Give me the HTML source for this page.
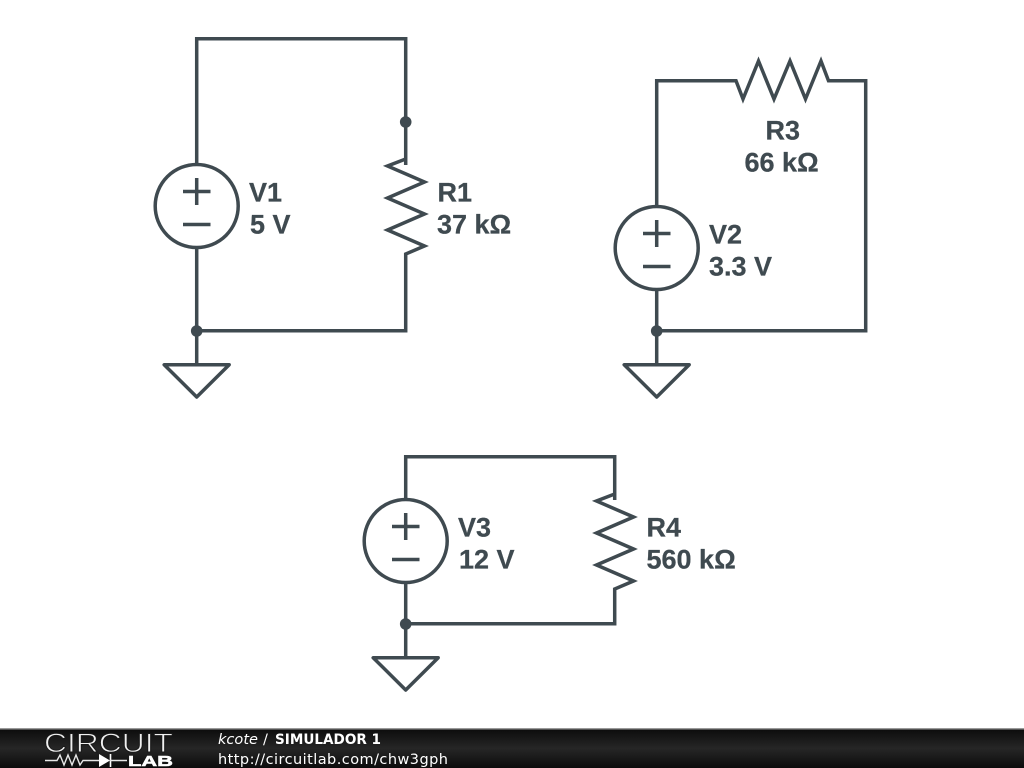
<!DOCTYPE html>
<html>
<head>
<meta charset="utf-8">
<style>
html,body{margin:0;padding:0;background:#fff}
svg{display:block}
.w{fill:none;stroke:#3f4a50;stroke-width:3.5;stroke-linejoin:miter;stroke-linecap:butt}
.t{fill:none;stroke:#3f4a50;stroke-width:3.5;stroke-linejoin:round}
.l{font-family:"Liberation Sans",sans-serif;font-weight:bold;font-size:27px;fill:#3f4a50;stroke:#3f4a50;stroke-width:0.25}
.d{fill:#3f4a50}
.f{font-family:"DejaVu Sans",sans-serif;font-size:14.5px;fill:#fff}
</style>
</head>
<body>
<svg width="1024" height="768" viewBox="0 0 1024 768" xmlns="http://www.w3.org/2000/svg">
<defs>
<linearGradient id="g" x1="0" y1="0" x2="0" y2="1">
<stop offset="0" stop-color="#0c0c0c"/>
<stop offset="0.5" stop-color="#262626"/>
<stop offset="1" stop-color="#0c0c0c"/>
</linearGradient>
</defs>
<rect width="1024" height="768" fill="#fff"/>

<!-- V1 / R1 -->
<path class="w" d="M196.700 164V38.700H405.700V165"/>
<path class="w" d="M405.700 159L387.500 166L424.500 182L387.500 198L424.500 214L387.500 230L424.500 246L405.700 254V330.700H196.700V248"/>
<circle class="w" cx="196.700" cy="206" r="41.500"/>
<path class="w" d="M196.700 178V205M183 191.500H210.500M183 224.500H210.500"/>
<circle class="d" cx="405.700" cy="122" r="5.800"/>
<circle class="d" cx="196.700" cy="331" r="5.800"/>
<path class="w" d="M196.700 331V364"/>
<path class="t" d="M164.200 364.700H229.200L196.700 397Z"/>
<text class="l" x="249" y="201.500">V1</text>
<text class="l" x="250" y="233.500">5 V</text>
<text class="l" x="437.500" y="201.500">R1</text>
<text class="l" x="437" y="233.500">37 kΩ</text>

<!-- V2 / R3 -->
<path class="w" d="M656.700 206V80.700H736L743 99L758.500 61L774 99L790 61L805.500 99L821 61L828.500 80.700H865.700V330.700H656.700V290"/>
<circle class="w" cx="656.700" cy="248" r="41.500"/>
<path class="w" d="M656.700 220V247M643 233.500H670.500M643 266.500H670.500"/>
<circle class="d" cx="656.700" cy="331" r="5.800"/>
<path class="w" d="M656.700 331V364"/>
<path class="t" d="M624.200 364.700H689.200L656.700 397Z"/>
<text class="l" x="765.500" y="139.500">R3</text>
<text class="l" x="744.500" y="171.500">66 kΩ</text>
<text class="l" x="709" y="243.500">V2</text>
<text class="l" x="709" y="275.500">3.3 V</text>

<!-- V3 / R4 -->
<path class="w" d="M405.700 499V456.700H614.700V500"/>
<path class="w" d="M614.700 494L596.500 501L633.500 517L596.500 533L633.500 549L596.500 565L633.500 581L614.700 589V623.700H405.700V583"/>
<circle class="w" cx="405.700" cy="541" r="41.500"/>
<path class="w" d="M405.700 513V540M392 526.500H419.500M392 559.500H419.500"/>
<circle class="d" cx="405.700" cy="624" r="5.800"/>
<path class="w" d="M405.700 624V657"/>
<path class="t" d="M373.200 657.700H438.200L405.700 690Z"/>
<text class="l" x="458" y="536.500">V3</text>
<text class="l" x="459" y="568.500">12 V</text>
<text class="l" x="646.500" y="536.500">R4</text>
<text class="l" x="646.500" y="568.500">560 kΩ</text>

<!-- Footer -->
<rect x="0" y="729" width="1024" height="39" fill="url(#g)"/>
<rect x="0" y="728" width="1024" height="1.500" fill="#999"/>
<text x="44" y="752" font-family="Liberation Sans, sans-serif" font-size="27" fill="#f0f0f0" stroke="#1a1a1a" stroke-width="0.900" textLength="129" lengthAdjust="spacingAndGlyphs">CIRCUIT</text>
<path d="M45 760.500H57L60 755L64 765L68 755L72 765L76 755L80 765L83 760.500H99" fill="none" stroke="#e8e8e8" stroke-width="1.400"/>
<path d="M99 754V767L110 760.500Z" fill="#fff"/>
<path d="M110.500 754V767" stroke="#fff" stroke-width="1.600"/>
<path d="M110 760.500H127" stroke="#e8e8e8" stroke-width="1.400"/>
<text x="128" y="766" font-family="Liberation Sans, sans-serif" font-weight="bold" font-size="14.500" fill="#fff" stroke="#fff" stroke-width="0.500" textLength="45" lengthAdjust="spacingAndGlyphs">LAB</text>
<text class="f" x="218" y="744" font-style="italic" textLength="40" lengthAdjust="spacingAndGlyphs">kcote</text>
<text class="f" x="263" y="744">/</text>
<text class="f" x="275" y="744" font-weight="bold" textLength="106" lengthAdjust="spacingAndGlyphs">SIMULADOR 1</text>
<text class="f" x="218" y="764" textLength="230">http://circuitlab.com/chw3gph</text>
</svg>
</body>
</html>
